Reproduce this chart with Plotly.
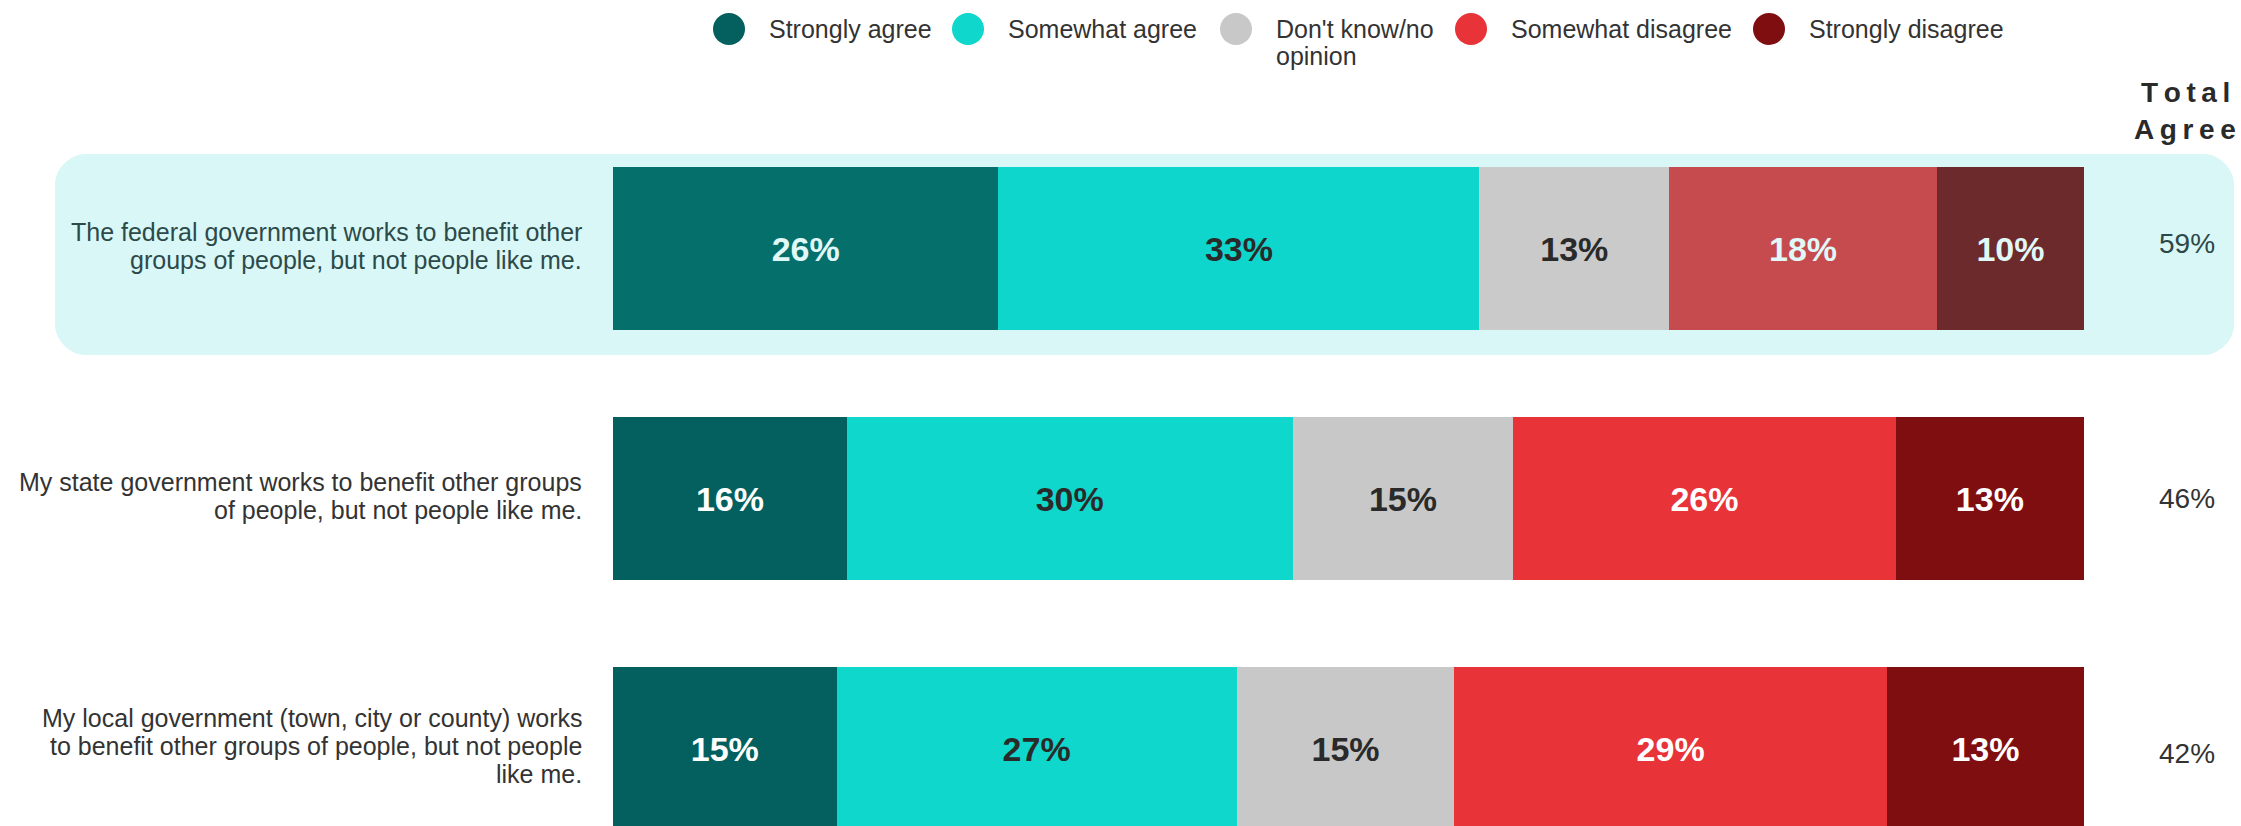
import plotly.graph_objects as go

# ---------------- data ----------------
statement_lines = [
    ["The federal government works to benefit other",
     "groups of people, but not people like me."],
    ["My state government works to benefit other groups",
     "of people, but not people like me."],
    ["My local government (town, city or county) works",
     "to benefit other groups of people, but not people",
     "like me."],
]
categories = ["Strongly agree", "Somewhat agree", "Don't know/no opinion",
              "Somewhat disagree", "Strongly disagree"]
legend_lines = [["Strongly agree"], ["Somewhat agree"], ["Don't know/no", "opinion"],
                ["Somewhat disagree"], ["Strongly disagree"]]

strongly_agree = [26.2, 15.9, 15.2]
somewhat_agree = [32.7, 30.3, 27.2]
dont_know = [12.9, 15.0, 14.8]
somewhat_disagree = [18.2, 26.0, 29.4]
strongly_disagree = [10.0, 12.8, 13.4]
series = [strongly_agree, somewhat_agree, dont_know, somewhat_disagree, strongly_disagree]

total_agree = [round(a + b) for a, b in zip(strongly_agree, somewhat_agree)]

# ---------------- styles ----------------
base_colors = ["#03605e", "#0fd7cc", "#c8c8c8", "#e83339", "#7f0e10"]
highlight_colors = ["#056f6c", "#0fd6cc", "#cacaca", "#c64b4e", "#6c2a2c"]
dark_label = [False, True, True, False, False]
FONT = "Liberation Sans, Arial, Helvetica, sans-serif"

W, H = 2241, 826
ML, MR, MT, MB = 613, 157, 80, 0
PW, PH = W - ML - MR, H - MT - MB
ROW_PX = 250.0
ROW0_CENTER_PX = 248.5


def px_x(px):
    return (px - ML) / PW


def px_y(py):
    return (H - MB - py) / PH


y_pos = list(range(len(statement_lines)))

fig = go.Figure()
for k, (name, vals) in enumerate(zip(categories, series)):
    mcolors = [highlight_colors[k] if i == 0 else base_colors[k] for i in y_pos]
    if dark_label[k]:
        tcolors = ["#2a2a2a" for _ in y_pos]
    else:
        tcolors = ["#e0f9f8" if i == 0 else "#ffffff" for i in y_pos]
    fig.add_trace(go.Bar(
        x=vals, y=y_pos, orientation="h", name=name,
        width=163 / ROW_PX,
        marker=dict(color=mcolors, line=dict(width=0)),
        texttemplate="%{x:.0f}%", textposition="inside",
        insidetextanchor="middle", textangle=0, constraintext="none",
        textfont=dict(family=FONT, size=34, color=tcolors, weight="bold"),
        showlegend=False, hoverinfo="skip",
    ))

y_top = -(ROW0_CENTER_PX - MT) / ROW_PX
y_bot = (H - MB - ROW0_CENTER_PX) / ROW_PX

annotations = []
# statement labels
for i, lines in enumerate(statement_lines):
    n = len(lines)
    col = "#2c4a4a" if i == 0 else "#333333"
    for j, ln in enumerate(lines):
        annotations.append(dict(
            xref="paper", x=0, xshift=-29, xanchor="right",
            yref="y", y=i, yshift=3 - (j - (n - 1) / 2) * 28, yanchor="middle",
            text=ln, showarrow=False, font=dict(family=FONT, size=25, color=col)))
# totals
for i, t in enumerate(total_agree):
    col = "#2c4848" if i == 0 else "#333333"
    annotations.append(dict(
        xref="paper", x=1, xshift=103, xanchor="center",
        yref="y", y=i, yshift=5.5 - 5 * i, yanchor="middle",
        text=f"{t}%", showarrow=False, font=dict(family=FONT, size=28, color=col)))
# header
for txt, py in [("Total", 92), ("Agree", 129)]:
    annotations.append(dict(
        xref="paper", x=px_x(2185), xanchor="center",
        yref="paper", y=px_y(py), yanchor="middle",
        text="\u2009".join(txt), showarrow=False,
        font=dict(family=FONT, size=28, color="#2a2a2a", weight="bold")))

# custom legend
legend_cx = [729, 968, 1236, 1471, 1769]
shapes = []
for k, cx in enumerate(legend_cx):
    shapes.append(dict(
        type="circle", xref="paper", yref="paper",
        xsizemode="pixel", ysizemode="pixel",
        xanchor=px_x(cx), yanchor=px_y(29),
        x0=-16, x1=16, y0=-16, y1=16,
        fillcolor=base_colors[k], line=dict(width=0)))
    for j, ln in enumerate(legend_lines[k]):
        annotations.append(dict(
            xref="paper", x=px_x(cx + 38), xanchor="left",
            yref="paper", y=px_y(29 + 27 * j), yanchor="middle",
            text=ln, showarrow=False, font=dict(family=FONT, size=25, color="#333333")))

# highlight box with rounded corners
x0, x1 = px_x(55), px_x(2234)
yt, yb = px_y(154), px_y(355)
rx, ry = 30 / PW, 30 / PH
c = 0.448
path = (
    f"M {x0+rx},{yt} L {x1-rx},{yt} "
    f"C {x1-rx*c},{yt} {x1},{yt-ry*(1-c)} {x1},{yt-ry} "
    f"L {x1},{yb+ry} "
    f"C {x1},{yb+ry*c} {x1-rx*(1-c)},{yb} {x1-rx},{yb} "
    f"L {x0+rx},{yb} "
    f"C {x0+rx*c},{yb} {x0},{yb+ry*(1-c)} {x0},{yb+ry} "
    f"L {x0},{yt-ry} "
    f"C {x0},{yt-ry*c} {x0+rx*(1-c)},{yt} {x0+rx},{yt} Z"
)
shapes.insert(0, dict(type="path", xref="paper", yref="paper", path=path,
                      fillcolor="#d9f7f6", line=dict(width=0), layer="below"))

fig.update_layout(
    width=W, height=H,
    margin=dict(l=ML, r=MR, t=MT, b=MB, autoexpand=False),
    barmode="stack",
    paper_bgcolor="white", plot_bgcolor="rgba(0,0,0,0)",
    xaxis=dict(range=[0, 100], visible=False, fixedrange=True),
    yaxis=dict(range=[y_bot, y_top], visible=False, fixedrange=True),
    annotations=annotations, shapes=shapes,
    showlegend=False,
    font=dict(family=FONT),
)

fig.write_html(
    "out.html",
    config={"displayModeBar": False},
    post_script="document.body.style.margin='0';document.body.style.overflow='hidden';",
)
